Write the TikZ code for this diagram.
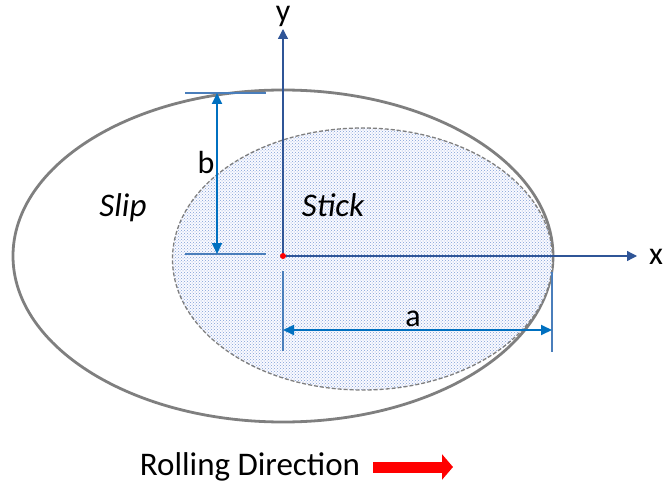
\documentclass[tikz,border=0pt]{standalone}
\usepackage{fontspec}
\setmainfont{Carlito}
\definecolor{axisclr}{HTML}{2F5597}
\definecolor{dimclr}{HTML}{0070C0}
\definecolor{extclr}{HTML}{4A7EBB}
\definecolor{rimclr}{HTML}{7F7F7F}
\definecolor{dotclr}{HTML}{7F9FD6}
\usetikzlibrary{positioning,arrows.meta,patterns}

\begin{document}
\begin{tikzpicture}[
    x=1pt, y=-1pt,
    axis/.style={-{Triangle[length=10pt,width=10pt]}, color=axisclr, line width=1.3pt},
    dimarr/.style={{Triangle[length=11pt,width=10pt]}-{Triangle[length=11pt,width=10pt]},
                   color=dimclr, line width=1.8pt},
    extline/.style={color=extclr, line width=1.3pt},
    lbl/.style={font=\fontsize{32}{38}\selectfont, inner sep=0pt, anchor=base},
    zone/.style={font=\fontsize{33}{40}\selectfont\itshape, inner sep=0pt, anchor=base},
    rollarr/.style={-{Triangle[length=11pt,width=25pt]}, color=red, line width=11pt}
  ]
    \useasboundingbox (0,0) rectangle (663,484);

    % contact patch
    \coordinate (O) at (283,256);
    \draw[rimclr, line width=2.8pt] (O) ellipse [x radius=270pt, y radius=166pt];
    \fill[blue!2] (362.5,259) ellipse [x radius=190pt, y radius=131pt];
    \fill[pattern=crosshatch dots, pattern color=dotclr] (362.5,259) ellipse [x radius=190pt, y radius=131pt];
    \draw[rimclr, line width=1.3pt, dash pattern=on 4pt off 2pt]
      (362.5,259) ellipse [x radius=190pt, y radius=131pt];

    % axes
    \coordinate (xtip) at (637,256);
    \coordinate (ytip) at (283,29);
    \draw[axis] (O) -- (xtip);
    \draw[axis] (O) -- (ytip);
    \node[lbl] (xlbl) at (656,264) {x};
    \node[lbl] (ylbl) at (283,22) {y};
    \fill[red] (O) circle (3pt);

    % semi-axis b
    \coordinate (btopL) at (185,93);
    \coordinate (btopR) at (266,93);
    \coordinate (bbotL) at (185,254);
    \coordinate (bbotR) at (266,254);
    \coordinate (btop) at (217,93);
    \coordinate (bbot) at (217,254);
    \draw[extline] (btopL) -- (btopR);
    \draw[extline] (bbotL) -- (bbotR);
    \draw[dimarr] (btop) -- (bbot);
    \node[lbl] (blbl) at (206,173) {b};

    % semi-axis a
    \coordinate (aextLt) at (283,271);
    \coordinate (aextLb) at (283,351);
    \coordinate (aextRt) at (552,272);
    \coordinate (aextRb) at (552,352);
    \coordinate (aleft) at (283,330);
    \coordinate (aright) at (552,330);
    \draw[extline] (aextLt) -- (aextLb);
    \draw[extline] (aextRt) -- (aextRb);
    \draw[dimarr] (aleft) -- (aright);
    \node[lbl] (albl) at (413,326) {a};

    % regions
    \node[zone] (slip) at (123,216) {Slip};
    \node[zone] (stick) at (333,216) {Stick};

    % rolling direction
    \node[lbl, font=\fontsize{33}{40}\selectfont] (roll) at (250,475) {Rolling Direction};
    \coordinate (rollstart) at (373,467);
    \coordinate (rollend) at (453,467);
    \draw[rollarr] (rollstart) -- (rollend);
\end{tikzpicture}
\end{document}
